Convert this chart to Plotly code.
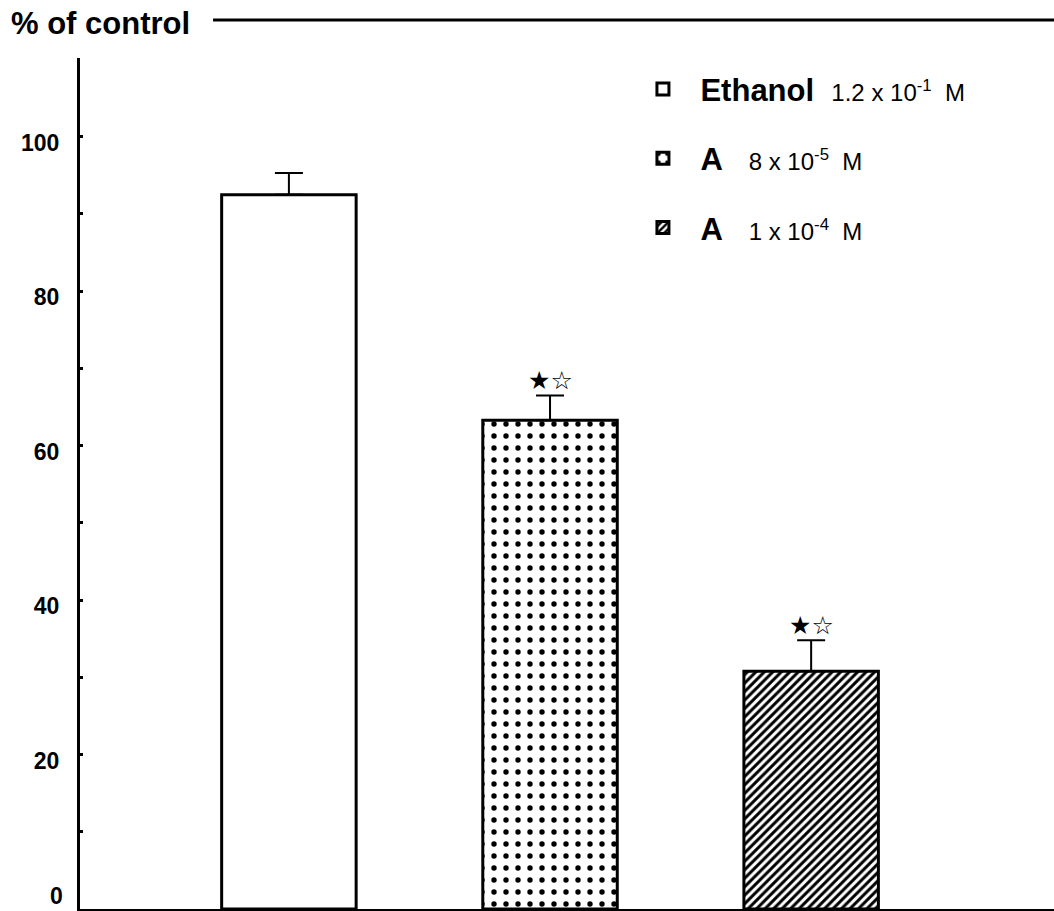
import plotly.graph_objects as go

categories = ["Ethanol", "A 8e-5", "A 1e-4"]
values = [92.5, 63.3, 30.8]
errors = [2.8, 3.2, 4.0]
legend_names = [
    "<b>Ethanol</b>  <span style='font-size:24px'>1.2 x 10<sup>-1</sup>  M</span>",
    "<b>A</b>   <span style='font-size:24px'>8 x 10<sup>-5</sup>  M</span>",
    "<b>A</b>   <span style='font-size:24px'>1 x 10<sup>-4</sup>  M</span>",
]
significance = ["", "★☆", "★☆"]
tick_vals = [0, 20, 40, 60, 80, 100]
tick_text = ["0", "20", "40", "60", "80", "100"]
minor_vals = [10, 30, 50, 70, 90]

patterns = [
    dict(shape=""),
    dict(shape=".", size=12, solidity=0.16, fgcolor="black", bgcolor="white", fillmode="replace"),
    dict(shape="/", size=6, solidity=0.5, fgcolor="black", bgcolor="white", fillmode="replace"),
]

fig = go.Figure()
for i, cat in enumerate(categories):
    fig.add_trace(go.Bar(
        x=[cat], y=[values[i]], name=legend_names[i],
        width=0.515,
        marker=dict(color="white", line=dict(color="black", width=3), pattern=patterns[i]),
        error_y=dict(type="data", symmetric=False, array=[errors[i]], arrayminus=[0],
                     color="black", thickness=2, width=14),
        legendgroup=str(i),
    ))
    if significance[i]:
        fig.add_annotation(x=cat, y=values[i] + errors[i], text=significance[i],
                           showarrow=False, yanchor="bottom", yshift=-2,
                           font=dict(size=25, color="black", family="DejaVu Sans"))

# label for the zero tick (drawn as annotation so it is not clipped at the bottom edge)
fig.add_annotation(xref="paper", yref="y", x=0, y=tick_vals[0], xshift=-15, yshift=-2,
                   xanchor="right", yanchor="bottom", text="<b>" + tick_text[0] + "</b>",
                   showarrow=False, font=dict(size=23, color="black", family="Liberation Sans"))

fig.add_annotation(xref="paper", yref="paper", x=-0.073, y=1.040, xanchor="left", yanchor="middle",
                   text="<b>% of control</b>", showarrow=False,
                   font=dict(size=31, color="black", family="Liberation Sans"))
fig.add_shape(type="line", xref="paper", yref="paper", x0=0.1366, x1=1.0, y0=1.0446, y1=1.0446,
              line=dict(color="black", width=3))

fig.update_layout(
    width=1054, height=911,
    margin=dict(l=80, r=0, t=58, b=2),
    paper_bgcolor="white", plot_bgcolor="white",
    barmode="overlay",
    showlegend=True,
    legend=dict(x=0.56, y=0.995, xanchor="left", yanchor="top",
                font=dict(size=31, color="black", family="Liberation Sans"),
                tracegroupgap=26, bgcolor="rgba(0,0,0,0)", itemwidth=65),
    font=dict(family="Liberation Sans", color="black"),
)
fig.update_xaxes(range=[-0.80, 2.93], showticklabels=False, ticks="", showgrid=False,
                 showline=True, linecolor="black", linewidth=3, zeroline=False)
fig.update_yaxes(range=[0, 110.2], tickvals=tick_vals[1:], ticktext=tick_text[1:],
                 ticks="inside", ticklen=3, tickwidth=3, tickcolor="black",
                 minor=dict(tickvals=minor_vals, ticks="inside", ticklen=3, tickwidth=3, tickcolor="black"),
                 showgrid=False, showline=True, linecolor="black", linewidth=3, zeroline=False,
                 tickfont=dict(size=23, family="Liberation Sans", color="black", weight="bold"),
                 ticklabelstandoff=13, ticklabelshift=6)

fig.write_html("out.html")
